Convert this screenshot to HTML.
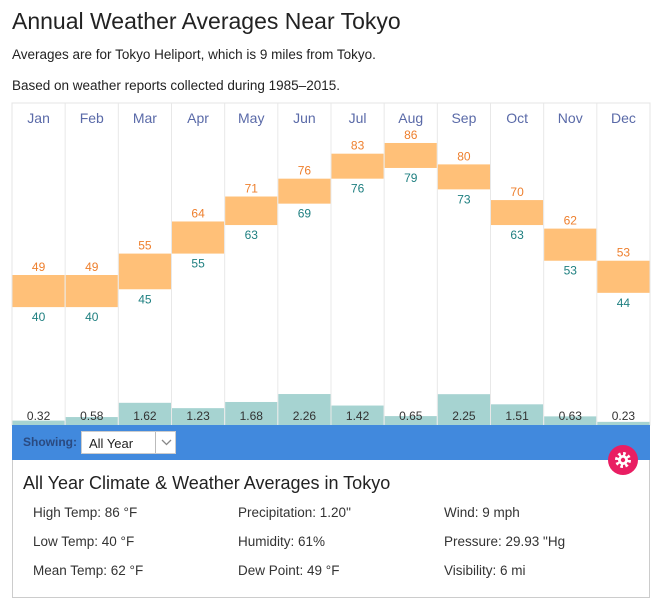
<!DOCTYPE html>
<html><head><meta charset="utf-8"><style>
body{margin:0;width:661px;height:606px;background:#fff;font-family:"Liberation Sans",sans-serif;color:#222;position:relative;overflow:hidden}
.a{position:absolute}
</style></head><body>
<div class="a" style="left:12px;top:8px;font-size:23px;color:#222">Annual Weather Averages Near Tokyo</div>
<div class="a" style="left:12px;top:47px;font-size:13.5px">Averages are for Tokyo Heliport, which is 9 miles from Tokyo.</div>
<div class="a" style="left:12px;top:78px;font-size:13.5px">Based on weather reports collected during 1985–2015.</div>
<svg class="a" style="left:0;top:0" width="661" height="606" id="chart"></svg>
<div class="a" style="left:12px;top:425px;width:638px;height:35px;background:#4189dd"></div>
<div class="a" style="left:23px;top:435px;font-size:12px;font-weight:bold;color:#2a4a80">Showing:</div>
<div class="a" style="left:81px;top:431px;width:95px;height:23px;background:#fff;border:1px solid #ccc;box-sizing:border-box;font-size:13px">
<span style="position:absolute;left:7px;top:4px">All Year</span>
<span style="position:absolute;left:73px;top:0;width:21px;height:21px;border-left:1px solid #bbb"><svg width="21" height="21"><path d="M6 8 L10.5 12.5 L15 8" stroke="#888" stroke-width="1.3" fill="none"/></svg></span></div>
<div class="a" style="left:12px;top:460px;width:638px;height:138px;border:1px solid #ccc;border-top:none;box-sizing:border-box"></div>
<div class="a" style="left:608px;top:445px;width:30px;height:30px;border-radius:50%;background:#e91e63">
<svg width="30" height="30"><circle cx="15" cy="15" r="6" fill="none" stroke="#fff" stroke-width="4" stroke-dasharray="2.4 2.3"/><circle cx="15" cy="15" r="5" fill="#fff"/><circle cx="15" cy="15" r="2.2" fill="#e91e63"/></svg></div>
<div class="a" style="left:23px;top:473px;font-size:18px">All Year Climate &amp; Weather Averages in Tokyo</div>
<div style="font-size:13.5px;color:#333">
<div class="a" style="left:33px;top:505px">High Temp: 86 °F</div>
<div class="a" style="left:33px;top:534px">Low Temp: 40 °F</div>
<div class="a" style="left:33px;top:563px">Mean Temp: 62 °F</div>
<div class="a" style="left:238px;top:505px">Precipitation: 1.20"</div>
<div class="a" style="left:238px;top:534px">Humidity: 61%</div>
<div class="a" style="left:238px;top:563px">Dew Point: 49 °F</div>
<div class="a" style="left:444px;top:505px">Wind: 9 mph</div>
<div class="a" style="left:444px;top:534px">Pressure: 29.93 "Hg</div>
<div class="a" style="left:444px;top:563px">Visibility: 6 mi</div>
</div>
<script>
const months=["Jan","Feb","Mar","Apr","May","Jun","Jul","Aug","Sep","Oct","Nov","Dec"];
const highs=[49,49,55,64,71,76,83,86,80,70,62,53];
const lows=[40,40,45,55,63,69,76,79,73,63,53,44];
const precip=[0.32,0.58,1.62,1.23,1.68,2.26,1.42,0.65,2.25,1.51,0.63,0.23];
const precipLabels=["0.32","0.58","1.62","1.23","1.68","2.26","1.42","0.65","2.25","1.51","0.63","0.23"];
const svg=document.getElementById('chart');const NS='http://www.w3.org/2000/svg';
const x0=12,x1=650,top0=103,bot=425,cw=(x1-x0)/months.length;
const xPos=i=>x0+i*cw;
const yT=t=>275-(t-49)*3.568;
const yP=p=>bot-p*13.7;
function mk(tag,attrs){const e=document.createElementNS(NS,tag);for(const k in attrs)e.setAttribute(k,attrs[k]);svg.appendChild(e);return e;}
function txt(x,y,s,fill,size){const t=mk('text',{x:x,y:y,'text-anchor':'middle',fill:fill,'font-size':size,'font-family':'Liberation Sans, sans-serif'});t.textContent=s;return t;}
const frame=mk('rect',{x:x0,y:top0,width:x1-x0,height:bot-top0,fill:'#fff',stroke:'#e4e4e4'});


months.forEach((m,i)=>{
 const x=xPos(i),cx=x+cw/2;
 if(i>0){const l=mk('line',{x1:x,x2:x,y1:top0,y2:bot,stroke:'#e8e8e8'});
  
  }
 const ml=txt(cx,123,m,'#5a6aa8',14);
 
 
 const yh=yT(highs[i]),yl=yT(lows[i]);
 const r=mk('rect',{x:x+0.5,y:yh,width:cw-1,height:yl-yh,fill:'#ffc078'});
 
 
 const ht=txt(cx,yh-4,String(highs[i]),'#ee7f2d',12);
 
 
 const lt=txt(cx,yl+14,String(lows[i]),'#1e7f80',12);
 
 
 const yp=yP(precip[i]);
 const pb=mk('rect',{x:x+0.5,y:yp,width:cw-1,height:bot-yp,fill:'#a6d3d1'});
 
 
 const pt=txt(cx,420,precipLabels[i],'#333',12);
 
 
});
</script>
</body></html>
